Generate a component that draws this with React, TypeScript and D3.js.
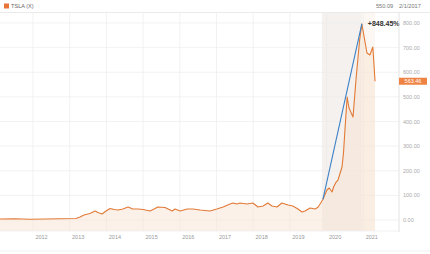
import React from "react";
import * as d3 from "d3";

const years: number[] = [
  2011.10, 2011.51, 2011.92, 2012.33, 2012.74, 2013.17, 2013.28, 2013.39, 2013.55, 2013.69,
  2013.77, 2013.88, 2013.99, 2014.10, 2014.21, 2014.32, 2014.45, 2014.59, 2014.72, 2014.86,
  2015.00, 2015.19, 2015.30, 2015.40, 2015.60, 2015.79, 2015.87, 2016.01, 2016.20, 2016.36,
  2016.55, 2016.69, 2016.82, 2017.01, 2017.18, 2017.37, 2017.45, 2017.56, 2017.64, 2017.83,
  2017.99, 2018.13, 2018.27, 2018.40, 2018.51, 2018.65, 2018.78, 2018.95, 2019.08, 2019.22,
  2019.33, 2019.41, 2019.55, 2019.69, 2019.77, 2019.84, 2019.90, 2020.01, 2020.07, 2020.15,
  2020.19, 2020.26, 2020.31, 2020.37, 2020.42, 2020.46, 2020.50, 2020.56, 2020.61, 2020.72,
  2020.80, 2020.90, 2020.96, 2021.10, 2021.18, 2021.26, 2021.32,
];
const prices: number[] = [
  4.1, 4.9, 3.3, 4.1, 4.9, 6.1, 12.2, 20.3, 26.4, 36.5,
  30.5, 24.4, 36.5, 46.7, 42.6, 40.6, 44.7, 52.8, 44.7, 44.7,
  42.6, 36.5, 44.7, 52.8, 50.8, 36.5, 44.7, 36.5, 44.7, 44.7,
  40.6, 38.6, 36.5, 44.7, 52.8, 65.0, 69.0, 65.0, 69.0, 65.0,
  69.0, 52.8, 56.9, 69.0, 56.9, 52.8, 69.0, 60.9, 56.9, 44.7,
  32.5, 36.5, 48.7, 44.7, 52.8, 69.0, 84.0, 121.8, 130.0, 113.7,
  134.0, 154.3, 162.4, 190.9, 215.2, 272.1, 365.5, 499.5, 454.8, 418.3,
  568.5, 731.0, 796.7, 678.2, 670.0, 702.5, 563.46,
];
const yTicks: number[] = [0, 100, 200, 300, 400, 500, 600, 700, 800];
const xTicks: number[] = [2012, 2013, 2014, 2015, 2016, 2017, 2018, 2019, 2020, 2021];
const seriesName = "TSLA (X)";
const headerValue = "550.09";
const headerDate = "2/1/2017";
const changeLabel = "+848.45%";
const lastLabel = "563.46";
const measureStartIndex = 56;
const measureEndIndex = 72;

const FONT = "'Liberation Sans', Arial, sans-serif";

export default function App() {
  const W = 430, H = 254;
  const left = 0, right = 399, top = 13, bottom = 231;
  const x = d3.scaleLinear().domain([2012, 2021]).range([33, 363.3]);
  const y = d3.scaleLinear().domain([0, 800]).range([220, 23]);
  const data = years.map((yr, i) => ({ t: yr, v: prices[i] }));

  const line = d3.line<{ t: number; v: number }>().x(d => x(d.t)).y(d => y(d.v));
  const area = d3.area<{ t: number; v: number }>().x(d => x(d.t)).y0(bottom).y1(d => y(d.v));

  const ms = data[measureStartIndex];
  const me = data[measureEndIndex];
  const last = data[data.length - 1];

  return (
    <svg width={W} height={H} style={{ position: "absolute", left: 0, top: 0, background: "#fff" }} fontFamily={FONT}>
      {/* header */}
      <rect x={4} y={3.5} width={5} height={5} fill="#e8743b" />
      <text x={11} y={8} fontSize={5.6} fill="#666">{seriesName}</text>
      <text x={376} y={8} fontSize={5.6} fill="#777">{headerValue}</text>
      <text x={399} y={8} fontSize={5.6} fill="#777">{headerDate}</text>
      <line x1={0} x2={W} y1={12.5} y2={12.5} stroke="#e4e4e4" strokeWidth={0.8} />

      {/* shaded ranges */}
      <rect x={x(ms.t) - 1} y={top} width={x(me.t) - x(ms.t) + 1} height={bottom - top} fill="#f4f1ee" />
      <rect x={x(me.t)} y={top} width={x(last.t) - x(me.t)} height={bottom - top} fill="#fcf7f2" />

      {/* grid */}
      {yTicks.map(t => (
        <line key={"h" + t} x1={left} x2={right} y1={y(t)} y2={y(t)} stroke="#ececec" strokeWidth={0.7} />
      ))}
      {xTicks.map(t => (
        <line key={"v" + t} x1={x(t)} x2={x(t)} y1={top} y2={bottom} stroke="#ececec" strokeWidth={0.7} />
      ))}

      {/* area and line */}
      <path d={area(data) || ""} fill="#f7e4d2" fillOpacity={0.5} />
      <path d={line(data) || ""} fill="none" stroke="#e27a36" strokeWidth={1.1} strokeLinejoin="round" />

      {/* measure line */}
      <line x1={x(ms.t)} y1={y(ms.v)} x2={x(me.t)} y2={y(me.v)} stroke="#3d82c6" strokeWidth={1.1} />
      <text x={x(me.t) + 6} y={y(me.v) + 2.5} fontSize={7} fontWeight="bold" fill="#333">{changeLabel}</text>

      {/* axes */}
      <line x1={right} x2={right} y1={top} y2={bottom + 1} stroke="#dcdcdc" strokeWidth={0.8} />
      <line x1={left} x2={right} y1={bottom} y2={bottom} stroke="#eeeeee" strokeWidth={0.8} />
      {yTicks.map(t => (
        <text key={"yl" + t} x={403} y={y(t) + 2} fontSize={5.5} fill="#aaa">{t.toFixed(2)}</text>
      ))}
      {xTicks.map(t => (
        <text key={"xl" + t} x={x(t) + 8.5} y={239} fontSize={5.5} fill="#999" textAnchor="middle">{t}</text>
      ))}

      {/* last price tag */}
      <rect x={399} y={y(last.v) - 3.5} width={28} height={7} fill="#ef8343" />
      <text x={413} y={y(last.v) + 2} fontSize={5.5} fill="#fff" textAnchor="middle">{lastLabel}</text>

      <line x1={0} x2={W} y1={251} y2={251} stroke="#eeeeee" strokeWidth={0.8} />
    </svg>
  );
}
